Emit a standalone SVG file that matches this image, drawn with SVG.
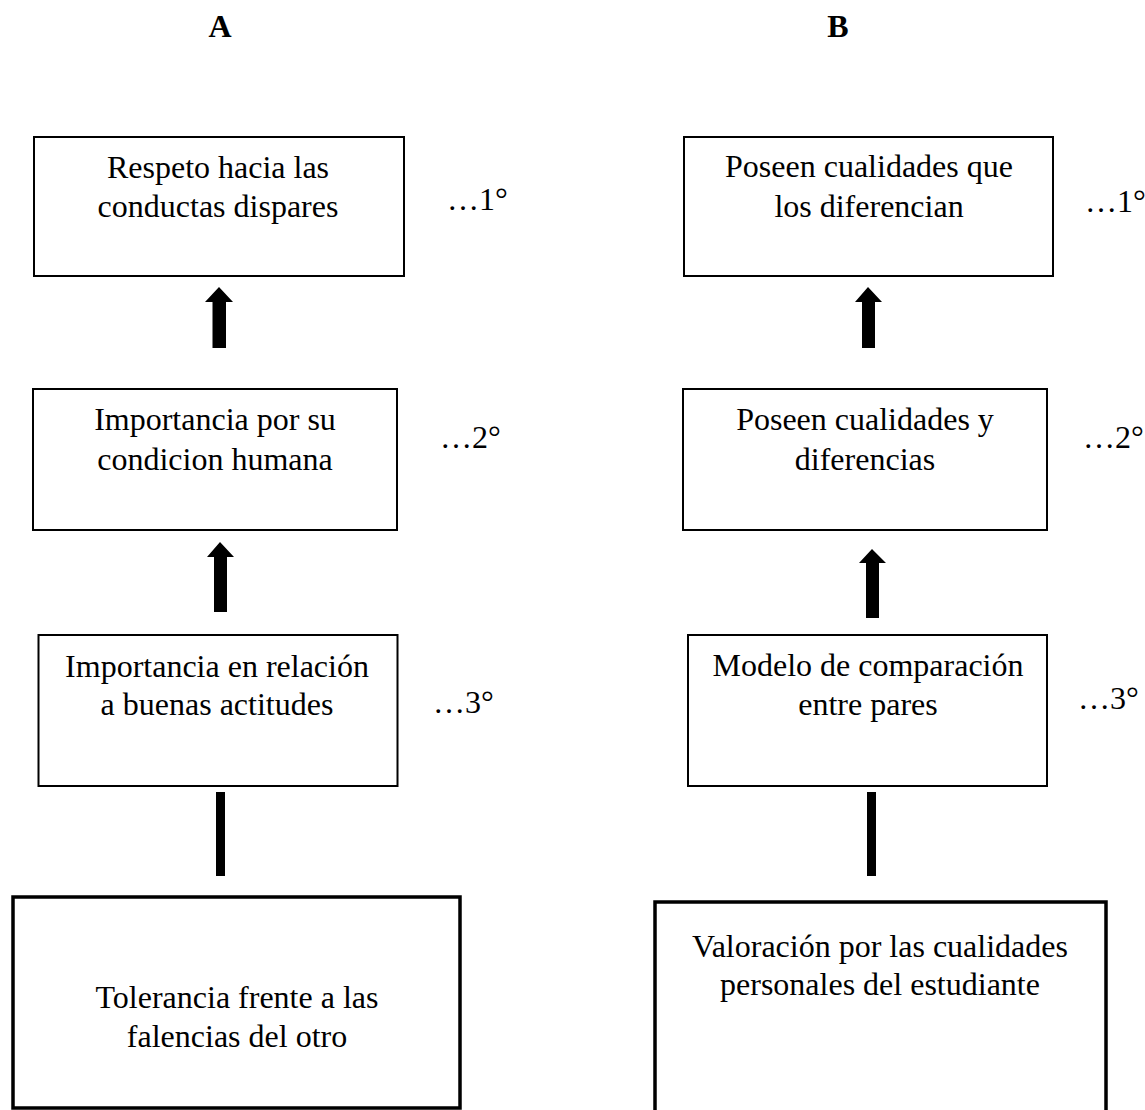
<svg xmlns="http://www.w3.org/2000/svg" width="1145" height="1110" viewBox="0 0 1145 1110">
<style>
.box{fill:#fff;stroke:#000;stroke-width:2}
.big{fill:#fff;stroke:#000;stroke-width:3.5}
.t{font-family:"Liberation Serif","Times New Roman",serif;font-size:32px;fill:#000;text-anchor:middle}
.lvl{font-family:"Liberation Serif","Times New Roman",serif;font-size:32px;fill:#000}
.hd{font-family:"Liberation Serif","Times New Roman",serif;font-size:32px;font-weight:bold;fill:#000;text-anchor:middle}
.arr{fill:#000}
</style>
<rect width="1145" height="1110" fill="#fff"/>
<g id="headers">
<text class="hd" x="220" y="37">A</text>
<text class="hd" x="838" y="37">B</text>
</g>
<g id="connectors">
<polygon class="arr" points="219,287 233,302 226,302 226,348 212.5,348 212.5,302 205,302"/>
<polygon class="arr" points="220,542 234,557 227,557 227,612 214,612 214,557 207,557"/>
<rect class="arr" x="216" y="792" width="9" height="84"/>
<polygon class="arr" points="868,287 882,302 875,302 875,348 862,348 862,302 855,302"/>
<polygon class="arr" points="872,549 886,563 879,563 879,618 866,618 866,563 859,563"/>
<rect class="arr" x="867" y="792" width="9" height="84"/>
</g>
<g id="nodeA1">
<rect class="box" x="34" y="137" width="370" height="139"/>
<text class="t" x="218" y="178">Respeto hacia las</text>
<text class="t" x="218" y="217">conductas dispares</text>
<text class="lvl" x="447" y="210">…1°</text>
</g>
<g id="nodeA2">
<rect class="box" x="33" y="389" width="364" height="141"/>
<text class="t" x="215" y="430">Importancia por su</text>
<text class="t" x="215" y="470">condicion humana</text>
<text class="lvl" x="440" y="448">…2°</text>
</g>
<g id="nodeA3">
<rect class="box" x="38.5" y="635" width="359" height="151"/>
<text class="t" x="217" y="677">Importancia en relación</text>
<text class="t" x="217" y="715">a buenas actitudes</text>
<text class="lvl" x="433" y="713">…3°</text>
</g>
<g id="nodeA4">
<rect class="big" x="13" y="897" width="447" height="211"/>
<text class="t" x="237" y="1008">Tolerancia frente a las</text>
<text class="t" x="237" y="1047">falencias del otro</text>
</g>
<g id="nodeB1">
<rect class="box" x="684" y="137" width="369" height="139"/>
<text class="t" x="869" y="177">Poseen cualidades que</text>
<text class="t" x="869" y="217">los diferencian</text>
<text class="lvl" x="1085" y="212">…1°</text>
</g>
<g id="nodeB2">
<rect class="box" x="683" y="389" width="364" height="141"/>
<text class="t" x="865" y="430">Poseen cualidades y</text>
<text class="t" x="865" y="470">diferencias</text>
<text class="lvl" x="1083" y="448">…2°</text>
</g>
<g id="nodeB3">
<rect class="box" x="688" y="635" width="359" height="151"/>
<text class="t" x="868" y="676">Modelo de comparación</text>
<text class="t" x="868" y="715">entre pares</text>
<text class="lvl" x="1078" y="709">…3°</text>
</g>
<g id="nodeB4">
<path class="big" d="M655,1112 V902 H1106 V1112"/>
<text class="t" x="880" y="957">Valoración por las cualidades</text>
<text class="t" x="880" y="995">personales del estudiante</text>
</g>
</svg>
